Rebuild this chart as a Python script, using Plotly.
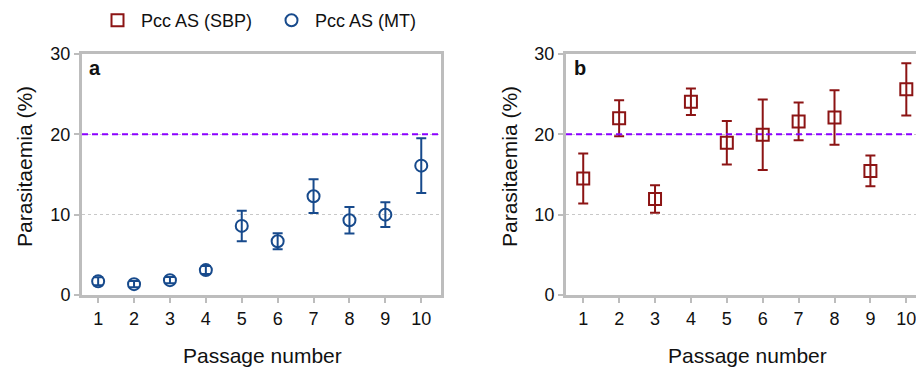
import plotly.graph_objects as go

# Passage series: mean parasitaemia (%) with error (±)
passages = list(range(1, 11))
mt_mean = [1.7, 1.35, 1.85, 3.1, 8.6, 6.7, 12.3, 9.3, 10.0, 16.1]
mt_err = [0.5, 0.4, 0.4, 0.5, 1.9, 1.0, 2.1, 1.65, 1.55, 3.4]
sbp_mean = [14.5, 22.0, 11.95, 24.05, 18.95, 19.95, 21.6, 22.1, 15.45, 25.6]
sbp_err = [3.1, 2.25, 1.7, 1.65, 2.7, 4.4, 2.35, 3.4, 1.9, 3.25]
threshold = 20
y_ticks = [0, 10, 20, 30]

W, H = 916, 374
FONT = "Liberation Sans, Arial, sans-serif"
BLUE = "#174a8c"
RED = "#8c1414"
PURPLE = "#8a00ff"
AXIS_GREY = "#bdbdbd"


def fx(px):
    return px / W


def fy(py):
    return 1 - py / H


fig = go.Figure()

fig.add_trace(go.Scatter(
    x=passages, y=sbp_mean, name="Pcc AS (SBP)", mode="markers",
    xaxis="x2", yaxis="y2",
    marker=dict(symbol="square-open", size=12, color=RED, line=dict(width=2, color=RED)),
    error_y=dict(type="data", array=sbp_err, visible=True, thickness=2, width=5, color=RED),
))
fig.add_trace(go.Scatter(
    x=passages, y=mt_mean, name="Pcc AS (MT)", mode="markers",
    xaxis="x", yaxis="y",
    marker=dict(symbol="circle-open", size=12, color=BLUE, line=dict(width=2, color=BLUE)),
    error_y=dict(type="data", array=mt_err, visible=True, thickness=2, width=5, color=BLUE),
))

common_x = dict(
    tickvals=passages, ticks="outside", ticklen=5, tickwidth=2, tickcolor=AXIS_GREY,
    showline=True, linewidth=3, linecolor=AXIS_GREY, showgrid=False, zeroline=False,
    tickfont=dict(size=18, color="#111", family=FONT), automargin=False,
    ticklabeloverflow="allow",
)
common_y = dict(
    range=[0, 30], tickvals=y_ticks, ticks="outside", ticklen=5, tickwidth=2,
    tickcolor=AXIS_GREY, showline=True, linewidth=3, linecolor=AXIS_GREY,
    showgrid=True, gridcolor="#c8c8c8", griddash="dot", gridwidth=1, zeroline=False,
    tickfont=dict(size=18, color="#111", family=FONT), automargin=False,
)

y_dom = [fy(295), fy(54)]

fig.update_layout(
    width=W, height=H,
    margin=dict(l=0, r=0, t=0, b=0, autoexpand=False),
    paper_bgcolor="white", plot_bgcolor="white",
    font=dict(family=FONT, color="#111"),
    showlegend=True,
    legend=dict(
        orientation="h", x=fx(94), y=fy(2), xanchor="left", yanchor="top",
        font=dict(size=18, family=FONT), itemsizing="constant", traceorder="normal",
        itemwidth=37, entrywidth=122, entrywidthmode="pixels", bgcolor="rgba(0,0,0,0)",
    ),
    xaxis=dict(domain=[fx(82), fx(441)], range=[0.55, 10.55], mirror=True, **common_x),
    yaxis=dict(domain=y_dom, mirror=True, **common_y),
    xaxis2=dict(domain=[fx(566), 1.0], range=[0.52, 10.27], mirror=True, anchor="y2", **common_x),
    yaxis2=dict(domain=y_dom, anchor="x2", **common_y),
)

# threshold lines
for xr, yr in (("x domain", "y"), ("x2 domain", "y2")):
    fig.add_shape(type="line", xref=xr, yref=yr, x0=0, x1=1, y0=threshold, y1=threshold,
                  line=dict(color=PURPLE, width=2, dash="6px,4px"))

# panel letters and axis titles
ann = [
    dict(text="<b>a</b>", x=fx(87), y=fy(68), xanchor="left", yanchor="middle", font=dict(size=20)),
    dict(text="<b>b</b>", x=fx(572), y=fy(68), xanchor="left", yanchor="middle", font=dict(size=20)),
    dict(text="Passage number", x=fx(262), y=fy(355), xanchor="center", yanchor="middle", font=dict(size=21)),
    dict(text="Passage number", x=fx(747), y=fy(355), xanchor="center", yanchor="middle", font=dict(size=21)),
    dict(text="Parasitaemia (%)", x=fx(24), y=fy(167), xanchor="center", yanchor="middle",
         textangle=-90, font=dict(size=21)),
    dict(text="Parasitaemia (%)", x=fx(509), y=fy(167), xanchor="center", yanchor="middle",
         textangle=-90, font=dict(size=21)),
]
for a in ann:
    a.update(xref="paper", yref="paper", showarrow=False)
    a["font"] = dict(family=FONT, color="#111", **a["font"])
    fig.add_annotation(**a)

fig.write_html("out.html")
